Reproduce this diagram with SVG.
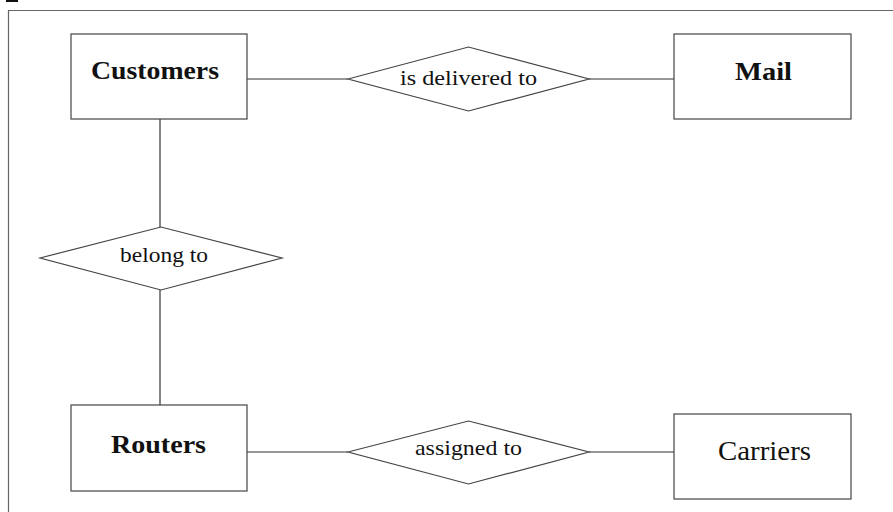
<svg xmlns="http://www.w3.org/2000/svg" width="893" height="512" viewBox="0 0 893 512">
<style>
.ent{fill:#fff;stroke:#444;stroke-width:1.2}
.rel{fill:#fff;stroke:#444;stroke-width:1.2}
.conn{stroke:#333;stroke-width:1.2;fill:none}
.frame{stroke:#666;stroke-width:1.2;fill:none}
.bt{font-family:"Liberation Serif","Times New Roman",serif;font-weight:bold;font-size:25px;fill:#111}
.nt{font-family:"Liberation Serif","Times New Roman",serif;font-size:22px;fill:#111}
.ct{font-family:"Liberation Serif","Times New Roman",serif;font-size:27px;fill:#111}
</style>
<rect width="893" height="512" fill="#fff"/>
<rect x="6" y="0" width="12" height="2" fill="#111"/>
<path class="frame" d="M8.5 512 V10.5 H893"/>
<g id="connectors">
<line class="conn" x1="247" y1="79" x2="348" y2="79"/>
<line class="conn" x1="589" y1="79" x2="674" y2="79"/>
<line class="conn" x1="160" y1="119" x2="160" y2="227"/>
<line class="conn" x1="160" y1="290" x2="160" y2="405"/>
<line class="conn" x1="247" y1="452" x2="348" y2="452"/>
<line class="conn" x1="589" y1="452" x2="674" y2="452"/>
</g>
<g id="customers">
<rect class="ent" x="71" y="34" width="176" height="85"/>
<text class="bt" x="91" y="79" textLength="128" lengthAdjust="spacingAndGlyphs">Customers</text>
</g>
<g id="is-delivered-to">
<polygon class="rel" points="348,79 468.5,47 589,79 468.5,111"/>
<text class="nt" x="400" y="85" textLength="137" lengthAdjust="spacingAndGlyphs">is delivered to</text>
</g>
<g id="mail">
<rect class="ent" x="674" y="34" width="177" height="85"/>
<text class="bt" x="735" y="80" textLength="57" lengthAdjust="spacingAndGlyphs">Mail</text>
</g>
<g id="belong-to">
<polygon class="rel" points="40,258 161,227 282,258 161,290"/>
<text class="nt" x="120" y="262" textLength="88" lengthAdjust="spacingAndGlyphs">belong to</text>
</g>
<g id="routers">
<rect class="ent" x="71" y="405" width="176" height="86"/>
<text class="bt" x="111" y="453" textLength="95" lengthAdjust="spacingAndGlyphs">Routers</text>
</g>
<g id="assigned-to">
<polygon class="rel" points="348,452 468.5,421 589,452 468.5,484"/>
<text class="nt" x="415" y="455" textLength="107" lengthAdjust="spacingAndGlyphs">assigned to</text>
</g>
<g id="carriers">
<rect class="ent" x="674" y="414" width="177" height="85"/>
<text class="ct" x="718" y="460" textLength="93" lengthAdjust="spacingAndGlyphs">Carriers</text>
</g>
</svg>
